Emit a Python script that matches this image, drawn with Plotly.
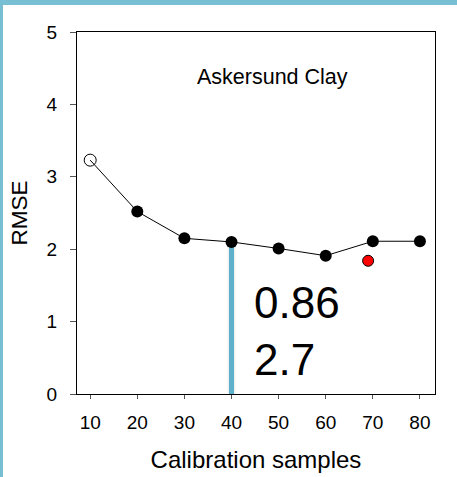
import plotly.graph_objects as go

samples = [10, 20, 30, 40, 50, 60, 70, 80]
rmse = [3.23, 2.52, 2.15, 2.10, 2.01, 1.91, 2.11, 2.11]
red_x = [69]
red_y = [1.84]
sel_x = [40, 40]
sel_y = [0, 2.08]
title_text = "Askersund Clay"
stat_lines = ["0.86", "2.7"]
x_ticks = [10, 20, 30, 40, 50, 60, 70, 80]
y_ticks = [0, 1, 2, 3, 4, 5]

W, H = 457, 477
L, R, T, B = 77, 22, 32, 83
pw, ph = W - L - R, H - T - B
blue = "#79BFD3"
line_blue = "#5FB1CB"
FONT = "Liberation Sans"

fig = go.Figure()
# faint shadow of selection line
fig.add_trace(go.Scatter(x=sel_x, y=sel_y, mode="lines",
                         line=dict(color="rgba(0,0,0,0.06)", width=8),
                         hoverinfo="skip", showlegend=False))
fig.add_trace(go.Scatter(x=sel_x, y=sel_y, mode="lines",
                         line=dict(color=line_blue, width=5),
                         hoverinfo="skip", showlegend=False))
fig.add_trace(go.Scatter(x=samples, y=rmse, mode="lines",
                         line=dict(color="black", width=1),
                         showlegend=False))
fig.add_trace(go.Scatter(x=samples[:1], y=rmse[:1], mode="markers",
                         marker=dict(symbol="circle-open", size=12, color="black",
                                     line=dict(width=1)),
                         showlegend=False))
fig.add_trace(go.Scatter(x=samples[1:], y=rmse[1:], mode="markers",
                         marker=dict(size=12, color="black"),
                         showlegend=False))
fig.add_trace(go.Scatter(x=red_x, y=red_y, mode="markers",
                         marker=dict(size=11, color="red", line=dict(color="black", width=1)),
                         showlegend=False))

fig.add_annotation(x=0.547, y=0.913, xref="paper", yref="paper", text=title_text,
                   showarrow=False, font=dict(family=FONT, size=21.5, color="black"))
fig.add_annotation(x=44.4, y=1.26, xref="x", yref="y", xanchor="left", text=stat_lines[0],
                   showarrow=False, font=dict(family=FONT, size=44, color="black"))
fig.add_annotation(x=44.4, y=0.48, xref="x", yref="y", xanchor="left", text=stat_lines[1],
                   showarrow=False, font=dict(family=FONT, size=44, color="black"))

# page border stripes
fig.add_shape(type="rect", xref="paper", yref="paper",
              x0=-L / pw, x1=(W - L) / pw, y0=1 + (T - 5) / ph, y1=1 + T / ph + 0.01,
              fillcolor=blue, line=dict(width=0), layer="below")
fig.add_shape(type="rect", xref="paper", yref="paper",
              x0=-L / pw - 0.01, x1=(3 - L) / pw, y0=-B / ph - 0.01, y1=1 + T / ph + 0.01,
              fillcolor=blue, line=dict(width=0), layer="below")

fig.update_xaxes(range=[7.2, 83.2], tickvals=x_ticks, ticks="outside", ticklen=4,
                 tickcolor="#555", showline=True, linecolor="black", linewidth=1, mirror=True,
                 showgrid=False, zeroline=False, ticklabelstandoff=7, automargin=False,
                 tickfont=dict(family=FONT, size=19, color="black"),
                 title=dict(text="Calibration samples", standoff=19,
                            font=dict(family=FONT, size=24, color="black")))
fig.update_yaxes(range=[0, 5], tickvals=y_ticks, ticks="outside", ticklen=6,
                 tickcolor="#555", showline=True, linecolor="black", linewidth=1, mirror=True,
                 showgrid=False, zeroline=False, ticklabelstandoff=9, automargin=False,
                 tickfont=dict(family=FONT, size=19, color="black"),
                 title=dict(text="RMSE", standoff=12,
                            font=dict(family=FONT, size=22.5, color="black")))

fig.update_layout(width=W, height=H, margin=dict(l=L, r=R, t=T, b=B),
                  plot_bgcolor="white", paper_bgcolor="white")
fig.write_html("out.html")
